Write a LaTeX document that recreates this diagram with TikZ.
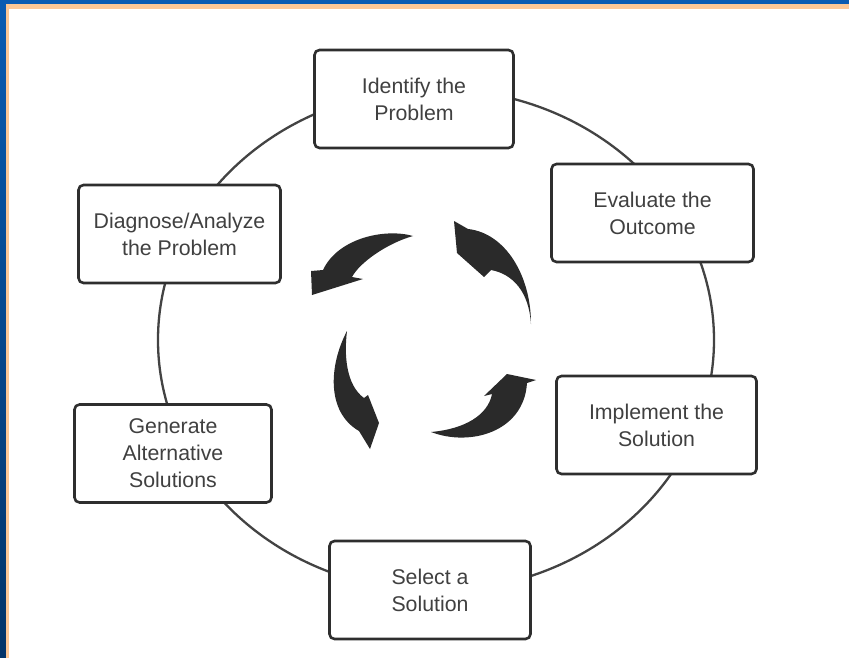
\documentclass[tikz,border=0pt]{standalone}
\usepackage{fontspec}
\setmainfont{Liberation Sans}
\definecolor{frameblueTop}{HTML}{0A5BB2}
\definecolor{frameblueBot}{HTML}{033468}
\definecolor{peach}{HTML}{FCC796}
\definecolor{inkline}{HTML}{2E2E2E}
\definecolor{inktext}{HTML}{404040}
\definecolor{arrowfill}{HTML}{2A2A2A}
\tikzset{
  stagebox/.style={draw=inkline, line width=2.6pt, rounded corners=5pt, fill=white,
    minimum width=#1, minimum height=98pt, inner sep=0pt, align=center,
    text=inktext, font=\fontsize{21.3}{27}\selectfont},
  stagebox/.default=200pt,
  ring/.style={draw=inkline!90, line width=2.3pt},
  cyclearrow/.style={fill=arrowfill, draw=none}
}
\begin{document}
\begin{tikzpicture}[x=1pt,y=-1pt]
\useasboundingbox (0,0) rectangle (849,658);
% frame
\shade[top color=frameblueTop, bottom color=frameblueBot] (0,0) rectangle (849,658);
\fill[peach] (6,4) rectangle (849,658);
\fill[white] (8.5,9.5) rectangle (849,658);
% ring
\draw[ring] (436,340) ellipse [x radius=278pt, y radius=251pt];
% boxes
\node[stagebox=199pt] (identify) at (414,99) {Identify the\\Problem};
\node[stagebox=202pt] (diagnose) at (179.5,234) {Diagnose/Analyze\\the Problem};
\node[stagebox=202pt] (evaluate) at (652.5,213) {Evaluate the\\Outcome};
\node[stagebox=197pt] (generate) at (173,453.5) {Generate\\Alternative\\Solutions};
\node[stagebox=200pt] (implement) at (656.5,425) {Implement the\\Solution};
\node[stagebox=201pt] (select) at (430,590) {Select a\\Solution};
% central cycle arrows
\fill[cyclearrow] (413,236) .. controls (385,228) and (338,238) .. (323,270)
  -- (311,271) -- (312,295) -- (363,279) -- (352,277)
  .. controls (360,262) and (388,243) .. (413,236) -- cycle;
\fill[cyclearrow] (531,324) .. controls (531,275) and (505,233) .. (468,229)
  -- (454,221) -- (457,253) -- (484,277) -- (491,270)
  .. controls (513,274) and (529,292) .. (531,324) -- cycle;
\fill[cyclearrow] (431,432) .. controls (470,447) and (524,432) .. (527,383)
  -- (536,380) -- (507,374) -- (484,396) -- (492,394)
  .. controls (488,415) and (465,429) .. (431,432) -- cycle;
\fill[cyclearrow] (347,331) .. controls (329,365) and (326,412) .. (359,431)
  -- (370,449) -- (379,423) -- (368,395) -- (364,398)
  .. controls (346,385) and (344,355) .. (347,331) -- cycle;
\end{tikzpicture}
\end{document}
